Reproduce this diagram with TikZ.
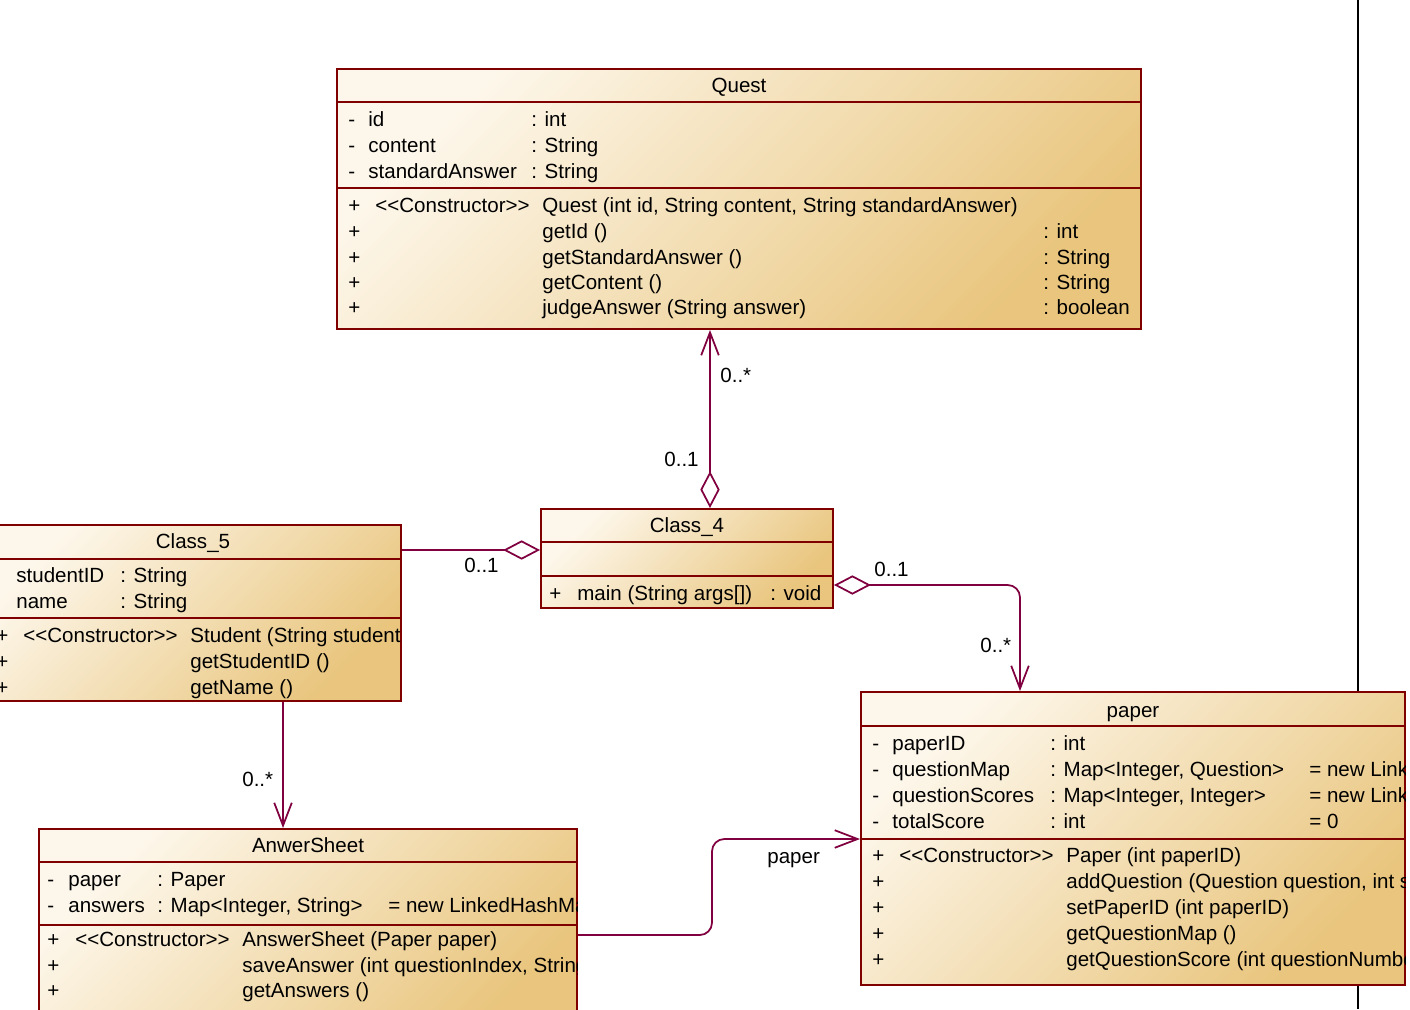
\documentclass[tikz,border=0pt]{standalone}
\usepackage{fontspec}
\setmainfont{Liberation Sans}
\usepackage{xcolor}
\usetikzlibrary{arrows.meta, fit, positioning}

\definecolor{umlBorder}{RGB}{128,0,0}
\definecolor{umlLink}{RGB}{128,0,64}
\definecolor{umlLight}{RGB}{253,247,235}
\definecolor{umlDark}{RGB}{233,197,125}

\newcommand{\umlstereo}[1]{<{}<#1>{}>}

\tikzset{
  %% Class box with gradient
  umlclass/.style={
    rectangle, draw=umlBorder, line width=1.1pt,
    top color=umlLight, bottom color=umlDark, shading angle=45,
    inner sep=0pt
  },
  %% Compartment separator
  umlsep/.style={draw=umlBorder, line width=1.1pt},
  %% Member text and class title
  mtxt/.style={anchor=base west, inner sep=0pt},
  ctitle/.style={anchor=base, inner sep=0pt},
  %% Association (open arrow)
  assoc/.style={draw=umlLink, line width=1pt,
                -{Straight Barb[length=13pt,width=10pt]}},
  %% Aggregation (open diamond) with arrow
  aggr/.style={draw=umlLink, line width=1pt,
               {Diamond[open,fill=white,length=21pt,width=11pt]}-%
               {Straight Barb[length=13pt,width=10pt]}},
  %% Aggregation without arrow
  aggrline/.style={draw=umlLink, line width=1pt,
                   {Diamond[open,fill=white,length=21pt,width=11pt]}-},
}

\begin{document}
\begin{tikzpicture}[x=0.02cm, y=-0.02cm,
  every node/.style={font=\fontsize{11.7}{14}\selectfont}]
  \clip (0,0) rectangle (1410,1009);
  \fill[white] (0,0) rectangle (1410,1009);

  %% Frame line on the right
  \draw[black, line width=1.6pt] (1358,0) -- (1358,1009);

  %% Quest
  \node[umlclass, fit={(337,69) (1141,329)}] (quest) {};
  \draw[umlsep] (quest.west |- 0,102) -- (quest.east |- 0,102);
  \draw[umlsep] (quest.west |- 0,188) -- (quest.east |- 0,188);
  \node[ctitle] (quest-t) at (739,92) {Quest};
  \node[mtxt] (qa1v) at (348,126) {-};
  \node[mtxt] (qa1n) at (368,126) {id};
  \node[mtxt] (qa1t) at (531,126) {: int};
  \node[mtxt] (qa2v) at (348,152) {-};
  \node[mtxt] (qa2n) at (368,152) {content};
  \node[mtxt] (qa2t) at (531,152) {: String};
  \node[mtxt] (qa3v) at (348,178) {-};
  \node[mtxt] (qa3n) at (368,178) {standardAnswer};
  \node[mtxt] (qa3t) at (531,178) {: String};
  \node[mtxt] (qm1v) at (348,212) {+};
  \node[mtxt] (qm1s) at (375,212) {\umlstereo{Constructor}};
  \node[mtxt] (qm1n) at (542,212) {Quest (int id, String content, String standardAnswer)};
  \node[mtxt] (qm2v) at (348,238) {+};
  \node[mtxt] (qm2n) at (542,238) {getId ()};
  \node[mtxt] (qm2t) at (1043,238) {: int};
  \node[mtxt] (qm3v) at (348,264) {+};
  \node[mtxt] (qm3n) at (542,264) {getStandardAnswer ()};
  \node[mtxt] (qm3t) at (1043,264) {: String};
  \node[mtxt] (qm4v) at (348,289) {+};
  \node[mtxt] (qm4n) at (542,289) {getContent ()};
  \node[mtxt] (qm4t) at (1043,289) {: String};
  \node[mtxt] (qm5v) at (348,314) {+};
  \node[mtxt] (qm5n) at (542,314) {judgeAnswer (String answer)};
  \node[mtxt] (qm5t) at (1043,314) {: boolean};

  %% Class_4
  \node[umlclass, fit={(541,509) (833,608)}] (c4) {};
  \draw[umlsep] (c4.west |- 0,542) -- (c4.east |- 0,542);
  \draw[umlsep] (c4.west |- 0,576) -- (c4.east |- 0,576);
  \node[ctitle] (c4-t) at (687,532) {Class\_4};
  \node[mtxt] (c4m1v) at (549,600) {+};
  \node[mtxt] (c4m1n) at (577,600) {main (String args[])};
  \node[mtxt] (c4m1t) at (770,600) {: void};

  %% Class_5
  \node[umlclass, fit={(-15,525) (401,701)}] (c5) {};
  \draw[umlsep] (c5.west |- 0,559) -- (c5.east |- 0,559);
  \draw[umlsep] (c5.west |- 0,618) -- (c5.east |- 0,618);
  \begin{scope}
    \clip (c5.north west) rectangle (c5.south east);
    \node[ctitle] (c5-t) at (193,548) {Class\_5};
    \node[mtxt] (c5a1n) at (16,582) {studentID};
    \node[mtxt] (c5a1t) at (120,582) {: String};
    \node[mtxt] (c5a2n) at (16,608) {name};
    \node[mtxt] (c5a2t) at (120,608) {: String};
    \node[mtxt] (c5m1v) at (-4,642) {+};
    \node[mtxt] (c5m1s) at (23,642) {\umlstereo{Constructor}};
    \node[mtxt] (c5m1n) at (190,642) {Student (String studentID, String name)};
    \node[mtxt] (c5m2v) at (-4,668) {+};
    \node[mtxt] (c5m2n) at (190,668) {getStudentID ()};
    \node[mtxt] (c5m3v) at (-4,694) {+};
    \node[mtxt] (c5m3n) at (190,694) {getName ()};
  \end{scope}

  %% AnwerSheet
  \node[umlclass, fit={(39,829) (577,1040)}] (as) {};
  \draw[umlsep] (as.west |- 0,862) -- (as.east |- 0,862);
  \draw[umlsep] (as.west |- 0,925) -- (as.east |- 0,925);
  \begin{scope}
    \clip (as.north west) rectangle (as.south east);
    \node[ctitle] (as-t) at (308,852) {AnwerSheet};
    \node[mtxt] (asa1v) at (47,886) {-};
    \node[mtxt] (asa1n) at (68,886) {paper};
    \node[mtxt] (asa1t) at (157,886) {: Paper};
    \node[mtxt] (asa2v) at (47,912) {-};
    \node[mtxt] (asa2n) at (68,912) {answers};
    \node[mtxt] (asa2t) at (157,912) {: Map<Integer, String>};
    \node[mtxt] (asa2i) at (388,912) {= new LinkedHashMap<>()};
    \node[mtxt] (asm1v) at (47,946) {+};
    \node[mtxt] (asm1s) at (75,946) {\umlstereo{Constructor}};
    \node[mtxt] (asm1n) at (242,946) {AnswerSheet (Paper paper)};
    \node[mtxt] (asm2v) at (47,972) {+};
    \node[mtxt] (asm2n) at (242,972) {saveAnswer (int questionIndex, String answer)};
    \node[mtxt] (asm3v) at (47,997) {+};
    \node[mtxt] (asm3n) at (242,997) {getAnswers ()};
  \end{scope}

  %% paper
  \node[umlclass, fit={(861,692) (1405,985)}] (paper) {};
  \draw[umlsep] (paper.west |- 0,726) -- (paper.east |- 0,726);
  \draw[umlsep] (paper.west |- 0,839) -- (paper.east |- 0,839);
  \begin{scope}
    \clip (paper.north west) rectangle (paper.south east);
    \node[ctitle] (paper-t) at (1133,717) {paper};
    \node[mtxt] (pa1v) at (872,750) {-};
    \node[mtxt] (pa1n) at (892,750) {paperID};
    \node[mtxt] (pa1t) at (1050,750) {: int};
    \node[mtxt] (pa2v) at (872,776) {-};
    \node[mtxt] (pa2n) at (892,776) {questionMap};
    \node[mtxt] (pa2t) at (1050,776) {: Map<Integer, Question>};
    \node[mtxt] (pa2i) at (1309,776) {= new LinkedHashMap<>()};
    \node[mtxt] (pa3v) at (872,802) {-};
    \node[mtxt] (pa3n) at (892,802) {questionScores};
    \node[mtxt] (pa3t) at (1050,802) {: Map<Integer, Integer>};
    \node[mtxt] (pa3i) at (1309,802) {= new LinkedHashMap<>()};
    \node[mtxt] (pa4v) at (872,828) {-};
    \node[mtxt] (pa4n) at (892,828) {totalScore};
    \node[mtxt] (pa4t) at (1050,828) {: int};
    \node[mtxt] (pa4i) at (1309,828) {= 0};
    \node[mtxt] (pm1v) at (872,862) {+};
    \node[mtxt] (pm1s) at (899,862) {\umlstereo{Constructor}};
    \node[mtxt] (pm1n) at (1066,862) {Paper (int paperID)};
    \node[mtxt] (pm2v) at (872,888) {+};
    \node[mtxt] (pm2n) at (1066,888) {addQuestion (Question question, int score)};
    \node[mtxt] (pm3v) at (872,914) {+};
    \node[mtxt] (pm3n) at (1066,914) {setPaperID (int paperID)};
    \node[mtxt] (pm4v) at (872,940) {+};
    \node[mtxt] (pm4n) at (1066,940) {getQuestionMap ()};
    \node[mtxt] (pm5v) at (872,966) {+};
    \node[mtxt] (pm5n) at (1066,966) {getQuestionScore (int questionNumber)};
  \end{scope}

  %% Connectors
  \draw[aggr] (c4.north -| 710,0) -- (quest.south -| 710,0);
  \draw[aggrline] (c4.west |- 0,550) -- (c5.east |- 0,550);
  \draw[aggr, rounded corners=7pt] (c4.east |- 0,585) -| (paper.north -| 1020,0);
  \draw[assoc] (c5.south -| 283,0) -- (as.north -| 283,0);
  \draw[assoc, rounded corners=7pt] (as.east |- 0,935) -| (712,887)
        |- (paper.west |- 0,839);

  %% Multiplicities and role
  \node[mtxt] (m-q) at (720,382) {0..*};
  \node[mtxt] (m-c4q) at (664,466) {0..1};
  \node[mtxt] (m-c4c5) at (464,572) {0..1};
  \node[mtxt] (m-c4p) at (874,576) {0..1};
  \node[mtxt] (m-p) at (980,652) {0..*};
  \node[mtxt] (m-as) at (242,786) {0..*};
  \node[mtxt] (r-paper) at (767,863) {paper};

\end{tikzpicture}
\end{document}
